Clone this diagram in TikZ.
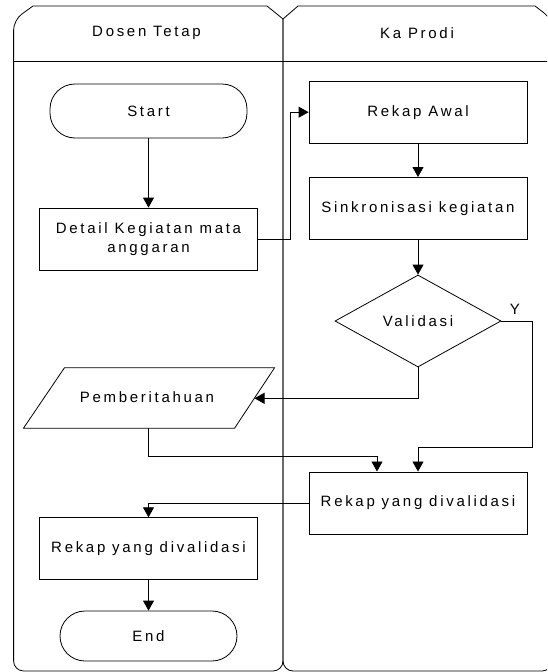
\documentclass[tikz,border=0pt]{standalone}
\usepackage{fontspec}
\newfontfamily\flowfont{Liberation Sans}[LetterSpace=18]
\usetikzlibrary{
	arrows.meta,
	shapes.geometric
}
\tikzset{
  % arrow
	cstra/.style      ={-{Triangle[length=10pt,width=11pt]}, line width=0.8pt}, % right arrow
	cstline/.style    ={line width=0.8pt}, % lane border
  % text
	csttext/.style    ={font=\flowfont\fontsize{15}{18.4}\selectfont, text=black},
  % node
	cstnode/.style    ={csttext, draw=black, line width=0.8pt, inner sep=0pt, minimum width=218pt, minimum height=62pt, align=center},
	cstterm/.style    ={cstnode, rounded corners=25pt},
	cstdeci/.style    ={csttext, draw=black, line width=0.8pt, inner sep=0pt, diamond, minimum width=166pt, minimum height=92pt}
}
\begin{document}
\begin{tikzpicture}[x=1pt,y=-1pt]
	\useasboundingbox (0,0) rectangle (547,672);
	\clip (0,0) rectangle (547,672);
	% lanes
	\draw[cstline] (283,19) [rounded corners=10pt] -- (283,671) -- (13.6,671) -- (13.6,20) [sharp corners] -- (33,6) -- (267,6) -- cycle;
	\draw[cstline] (283,19) [rounded corners=10pt] -- (283,671) -- (552,671) -- (552,19) [sharp corners] -- (535,6) -- (298,6) -- cycle;
	\draw[cstline] (13.6,61) -- (552,61);
	\node[csttext] (hdosen) at (146.5,33) {Dosen Tetap};
	\node[csttext] (hkaprodi) at (417,33) {Ka Prodi};
	% Dosen Tetap
	\node[cstterm, minimum width=197pt, minimum height=54pt] (start) at (148.5,111) {Start};
	\node[cstnode] (detail) at (148.5,239) {Detail Kegiatan mata\\anggaran};
	\draw[cstline] (23.4,428.3) -- (64.5,367.7) -- (274.6,367.7) -- (234.5,428.3) -- cycle;
	\node[csttext] (pemb) at (147,397) {Pemberitahuan};
	\coordinate (pembe) at (254.5,398.3);
	\coordinate (pembs) at (148.3,428.3);
	\node[cstnode] (rekapdt) at (148.5,548.7) {Rekap yang divalidasi};
	\node[cstterm, minimum width=177pt, minimum height=50pt] (end) at (148.5,636) {End};
	% Ka Prodi
	\node[cstnode] (rekapawal) at (418,112.2) {Rekap Awal};
	\node[cstnode] (sinkron) at (418,208.4) {Sinkronisasi kegiatan};
	\node[cstdeci] (validasi) at (418,321) {Validasi};
	\node[cstnode] (rekapkp) at (418,502.9) {Rekap yang divalidasi};
	% arrows
	\draw[cstra] (start.south) -- (detail.north);
	\draw[cstra] (detail.east) -- ++(32,0) |- (rekapawal.west);
	\draw[cstra] (rekapawal.south) -- (sinkron.north);
	\draw[cstra] (sinkron.south) -- (validasi.north);
	\draw[cstra] (validasi.east) -- node[csttext, above, inner sep=2pt, xshift=-2pt, yshift=4pt] {Y} ++(31,0) |- ([yshift=24pt]rekapkp.north) -- (rekapkp.north);
	\draw[cstra] (validasi.south) |- (pembe);
	\draw[cstra] (pembs) -- ++(0,28) -| ([xshift=-41pt]rekapkp.north);
	\draw[cstra] (rekapkp.west) -| (rekapdt.north);
	\draw[cstra] (rekapdt.south) -- (end.north);
\end{tikzpicture}
\end{document}
